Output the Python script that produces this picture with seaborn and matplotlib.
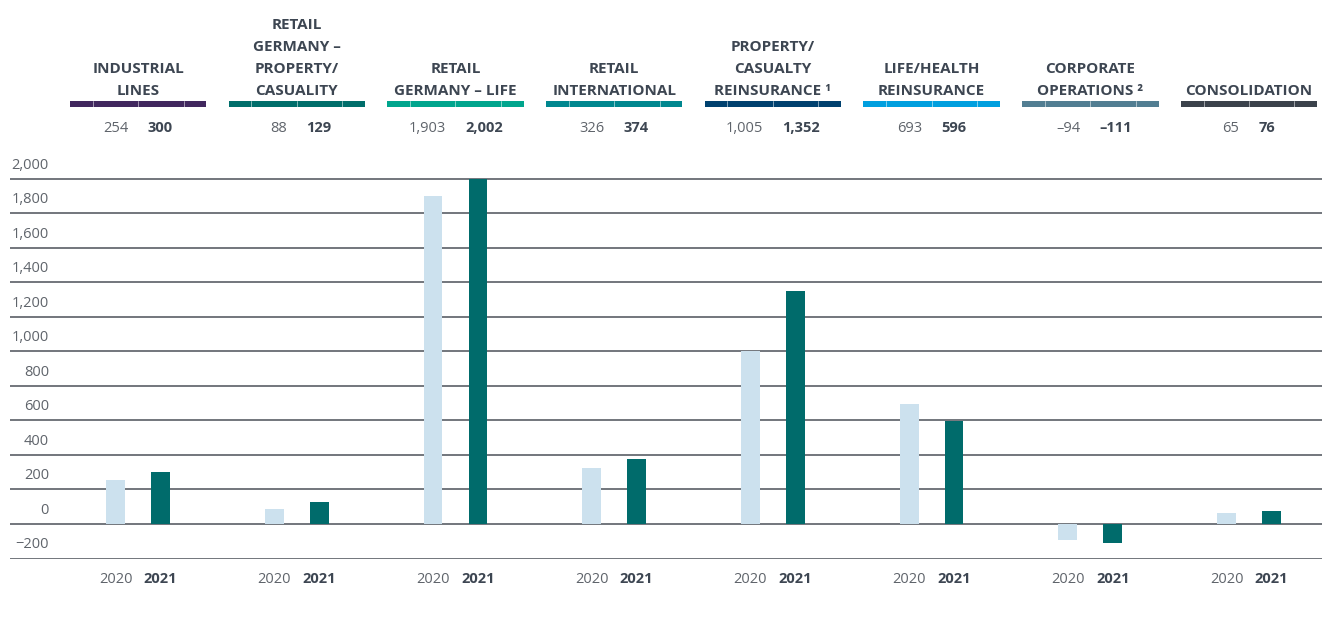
import matplotlib
matplotlib.use("Agg")
import matplotlib.pyplot as plt
import matplotlib.transforms as mtransforms
import pandas as pd
import seaborn as sns

# Segment data (EUR million)
segments = ["INDUSTRIAL\nLINES", "RETAIL\nGERMANY –\nPROPERTY/\nCASUALITY", "RETAIL\nGERMANY – LIFE",
            "RETAIL\nINTERNATIONAL", "PROPERTY/\nCASUALTY\nREINSURANCE ¹", "LIFE/HEALTH\nREINSURANCE",
            "CORPORATE\nOPERATIONS ²", "CONSOLIDATION"]
values_2020 = [254, 88, 1903, 326, 1005, 693, -94, 65]
values_2021 = [300, 129, 2002, 374, 1352, 596, -111, 76]
labels_2020 = ["254", "88", "1,903", "326", "1,005", "693", "–94", "65"]
labels_2021 = ["300", "129", "2,002", "374", "1,352", "596", "–111", "76"]
seg_colors = ["#41275e", "#006e6b", "#00a58d", "#00878f", "#00416f", "#009fdf", "#527e92", "#3b424b"]
years = ["2020", "2021"]
yticks = [-200, 0, 200, 400, 600, 800, 1000, 1200, 1400, 1600, 1800, 2000]

df = pd.DataFrame({
    "seg": list(range(8)) * 2,
    "year": ["2020"] * 8 + ["2021"] * 8,
    "value": values_2020 + values_2021,
})

sns.set_style("white")
plt.rcParams["font.family"] = ["Open Sans", "DejaVu Sans"]
dark = "#3d4652"
grey = "#5f646b"

fig = plt.figure(figsize=(13.22, 6.19), dpi=100)
W, H = 1322, 619
ax = fig.add_axes([10 / W, 1 - 558.5 / H, 1312 / W, 388.5 / H])

sns.barplot(data=df, x="seg", y="value", hue="year", order=list(range(8)),
            palette={"2020": "#cce1ee", "2021": "#006b6b"}, width=0.566, gap=0.58,
            saturation=1, ax=ax, legend=False, native_scale=True)
for p in ax.patches:
    p.set_linewidth(0)

ax.set_xlim(-0.807, 7.46)
ax.set_ylim(-200, 2052)
ax.set_xticks([])
ax.set_yticks([])
ax.set_xlabel("")
ax.set_ylabel("")
for s in ax.spines.values():
    s.set_visible(False)

for v in yticks:
    ax.axhline(v, color="#5a5f66", lw=1.2, zorder=0)
    ax.annotate(f"{v:,}".replace("-", "−"), xy=(0.0297, v), xycoords=("axes fraction", "data"),
                xytext=(0, 7.5), textcoords="offset points", ha="right", va="baseline",
                fontsize=10.5, color=grey)

trans = mtransforms.blended_transform_factory(ax.transData, fig.transFigure)
off = 0.1415
for i in range(8):
    # year labels under the bars
    ax.text(i - off, 1 - 583 / H, years[0], transform=trans, ha="center", va="baseline",
            fontsize=10.5, color=grey)
    ax.text(i + off, 1 - 583 / H, years[1], transform=trans, ha="center", va="baseline",
            fontsize=10.5, color=dark, fontweight="bold")
    # header: segment name, coloured rule, values
    ax.text(i, 1 - 95 / H, segments[i], transform=trans, ha="center", va="baseline",
            fontsize=11, color=dark, fontweight="bold", linespacing=1.72)
    ax.add_patch(plt.Rectangle((i - 0.43, 1 - 107 / H), 0.86, 6 / H, transform=trans,
                               color=seg_colors[i], clip_on=False, lw=0))
    for f in [1 / 6, 1 / 2, 5 / 6]:
        x = i - 0.43 + 0.86 * f
        ax.plot([x, x], [1 - 107 / H, 1 - 101 / H], transform=trans, color="white",
                lw=0.6, clip_on=False, alpha=0.6)
    ax.text(i - 0.06, 1 - 132 / H, labels_2020[i], transform=trans, ha="right", va="baseline",
            fontsize=10.5, color=grey)
    ax.text(i + 0.06, 1 - 132 / H, labels_2021[i], transform=trans, ha="left", va="baseline",
            fontsize=10.5, color=dark, fontweight="bold")

fig.savefig("out.png", dpi=100)
